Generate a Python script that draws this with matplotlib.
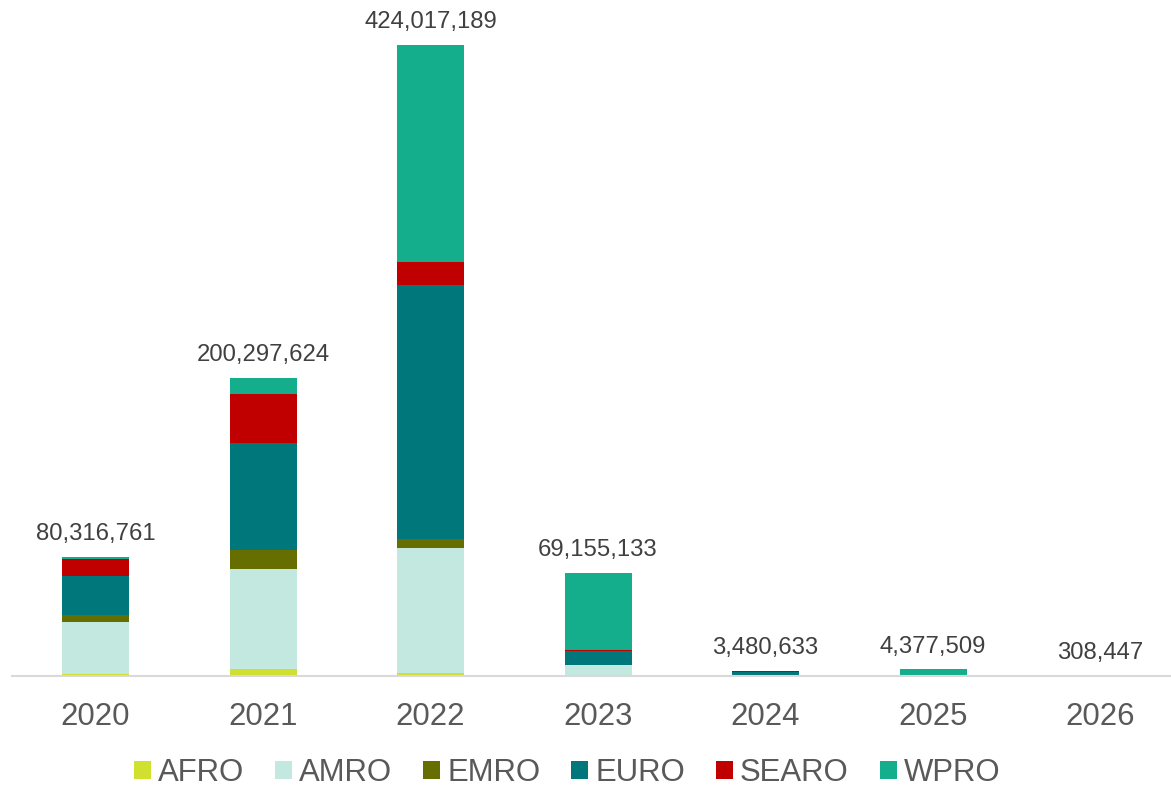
import matplotlib
matplotlib.use("Agg")
import matplotlib.pyplot as plt
import numpy as np

plt.rcParams['font.family'] = ['Liberation Sans', 'DejaVu Sans']

years = ["2020", "2021", "2022", "2023", "2024", "2025", "2026"]
regions = ["AFRO", "AMRO", "EMRO", "EURO", "SEARO", "WPRO"]
colors = ["#D0E02E", "#C2E8E0", "#666E00", "#00777A", "#C00000", "#14AE8C"]

# values in millions
afro  = [1.5,  4.7,   2.2,  0.2,  0.03, 0.05, 0.01]
amro  = [34.7, 67.2,  83.8, 7.0,  0.25, 0.10, 0.03]
emro  = [4.5,  12.6,  6.3,  0.25, 0.05, 0.02, 0.01]
euro  = [26.4, 72.3,  170.5, 9.4, 2.60, 0.15, 0.05]
searo = [11.4, 32.9,  15.7, 0.3,  0.10, 0.55, 0.02]
wpro  = [1.8,  10.6,  145.5, 52.0, 0.45, 3.50, 0.19]
totals = [80316761, 200297624, 424017189, 69155133, 3480633, 4377509, 308447]

series = [afro, amro, emro, euro, searo, wpro]

W, H = 1171, 789
fig = plt.figure(figsize=(W / 100, H / 100), dpi=100)
base_px = 676
ymax = 450.0
px_per_unit = 631 / 424.017
ax_h_px = ymax * px_per_unit
left_px = 11.75
ax_w_px = 7 * 167.5
ax = fig.add_axes([left_px / W, (H - base_px) / H, ax_w_px / W, ax_h_px / H])

x = np.arange(len(years))
bottom = np.zeros(len(years))
handles = []
for name, vals, c in zip(regions, series, colors):
    v = np.array(vals)
    b = ax.bar(x, v, 0.4, bottom=bottom, color=c, label=name, linewidth=0)
    handles.append(b)
    bottom += v

for xi, t in zip(x, totals):
    ax.annotate(f"{t:,}", (xi, t / 1e6), xytext=(0, 12.2), textcoords="offset points",
                ha="center", va="baseline", fontsize=17.2, color="#404040")

ax.set_xlim(-0.5, 6.5)
ax.set_ylim(0, ymax)
ax.set_xticks(x)
ax.set_xticklabels(years, fontsize=22.4, color="#595959")
ax.tick_params(axis="x", length=0, pad=18.5)
ax.set_yticks([])
for s in ["top", "right", "left"]:
    ax.spines[s].set_visible(False)
ax.spines["bottom"].set_color("#D9D9D9")
ax.spines["bottom"].set_linewidth(1.5)

leg = fig.legend(handles=handles, labels=regions, loc="center",
                 bbox_to_anchor=(567 / W, 16 / H), ncol=6, frameon=False,
                 fontsize=22.4, handlelength=0.55, handleheight=0.55,
                 handletextpad=0.22, columnspacing=1.0, borderpad=0,
                 borderaxespad=0)
for t in leg.get_texts():
    t.set_color("#595959")

fig.savefig("out.png", dpi=100)
